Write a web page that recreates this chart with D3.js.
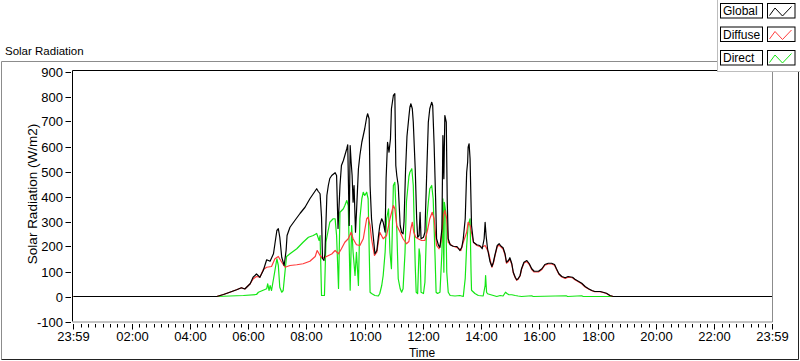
<!DOCTYPE html>
<html><head><meta charset="utf-8">
<script src="https://cdn.jsdelivr.net/npm/d3@7"></script>
<style>
body{margin:0;background:#fff;overflow:hidden}
text{font-family:"Liberation Sans",Arial,sans-serif;fill:#000}
text.nar{font-family:"Liberation Sans Narrow","Liberation Sans",Arial,sans-serif}
</style>
</head><body><svg id="c" width="800" height="361"></svg>
<script>
// ---------- data ----------
const seriesNames = ["Global", "Diffuse", "Direct"];
const seriesColors = ["#000000", "#ff3b3b", "#14e614"];
const xTickLabels = ["23:59","02:00","04:00","06:00","08:00","10:00","12:00","14:00","16:00","18:00","20:00","22:00","23:59"];
const yTickValues = [-100,0,100,200,300,400,500,600,700,800,900];

const globalTime = ["00:00","04:55","05:09","05:22","05:36","05:46","05:53","06:04","06:10","06:17","06:24","06:31","06:38","06:45","06:52","06:55","06:59","07:02","07:05","07:09","07:14","07:18","07:20","07:26","07:36","07:47","07:57","08:07","08:14","08:21","08:24","08:28","08:31","08:33","08:36","08:38","08:42","08:45","08:48","08:52","08:59","09:02","09:05","09:09","09:12","09:16","09:19","09:23","09:25","09:28","09:30","09:32","09:34","09:36","09:38","09:41","09:43","09:47","09:50","09:54","09:57","10:00","10:04","10:06","10:09","10:11","10:14","10:18","10:21","10:25","10:28","10:31","10:35","10:38","10:42","10:44","10:47","10:50","10:53","10:55","10:59","11:02","11:04","11:06","11:09","11:13","11:16","11:19","11:21","11:24","11:27","11:31","11:33","11:35","11:38","11:40","11:44","11:47","11:49","11:52","11:54","11:56","12:01","12:04","12:08","12:11","12:14","12:18","12:20","12:23","12:26","12:28","12:32","12:35","12:39","12:41","12:43","12:45","12:48","12:50","12:52","12:56","13:02","13:10","13:16","13:20","13:23","13:27","13:30","13:32","13:33","13:35","13:37","13:40","13:44","13:51","13:57","14:02","14:06","14:08","14:10","14:13","14:18","14:22","14:25","14:28","14:33","14:37","14:41","14:45","14:49","14:52","14:56","14:59","15:03","15:06","15:10","15:13","15:16","15:20","15:23","15:28","15:34","15:39","15:44","15:49","15:58","16:05","16:11","16:18","16:25","16:31","16:35","16:40","16:46","16:53","16:59","17:08","17:13","17:20","17:27","17:34","17:41","17:48","17:54","18:05","18:11","18:18","18:25","18:32","23:59"];
const globalValue = [0,0,8,17,27,35,30,51,77,90,77,104,147,141,171,211,264,271,237,157,124,184,244,277,304,333,357,391,411,431,421,411,317,152,144,170,404,444,472,484,495,484,272,444,524,544,564,591,607,284,604,537,484,377,444,257,337,511,564,617,644,671,717,731,711,444,311,231,171,184,237,284,311,297,257,471,617,577,631,751,804,811,524,484,444,284,257,251,300,500,640,720,757,771,751,697,511,311,237,244,337,231,237,257,511,697,751,777,764,604,391,231,204,197,271,644,471,724,697,377,231,207,201,200,184,197,231,311,497,537,597,611,551,284,217,207,204,191,231,297,244,191,140,120,137,164,204,211,201,195,171,137,144,155,131,97,77,67,71,84,111,137,144,131,111,101,101,111,128,133,133,128,111,91,80,75,80,77,69,61,53,40,31,24,20,20,17,13,4,0,0];

const diffuseTime = ["00:00","04:55","05:09","05:22","05:36","05:46","05:53","06:04","06:10","06:17","06:24","06:31","06:38","06:48","06:55","07:02","07:09","07:16","07:26","07:40","07:53","08:07","08:18","08:22","08:28","08:33","08:38","08:52","08:59","09:06","09:12","09:19","09:26","09:32","09:36","09:43","09:50","09:57","10:04","10:07","10:11","10:14","10:20","10:25","10:31","10:38","10:45","10:52","10:59","11:02","11:06","11:13","11:19","11:26","11:31","11:35","11:38","11:41","11:45","11:50","11:57","12:04","12:10","12:14","12:19","12:23","12:28","12:33","12:37","12:42","12:45","12:49","12:52","12:59","13:13","13:18","13:23","13:30","13:33","13:37","13:44","13:51","14:01","14:08","14:15","14:18","14:22","14:25","14:28","14:33","14:37","14:41","14:45","14:49","14:52","14:56","14:59","15:03","15:06","15:10","15:13","15:16","15:20","15:23","15:28","15:34","15:39","15:44","15:49","15:58","16:05","16:11","16:18","16:25","16:31","16:35","16:40","16:46","16:53","16:59","17:08","17:13","17:20","17:27","17:34","17:41","17:48","17:54","18:05","18:11","18:18","18:25","18:32","23:59"];
const diffuseValue = [0,0,8,17,27,35,30,51,70,80,77,108,117,120,151,160,137,117,124,127,131,141,160,184,164,152,157,170,184,171,191,217,231,257,231,207,204,231,311,317,284,231,164,177,257,231,244,311,364,351,284,257,231,211,220,271,297,257,237,231,224,224,271,311,337,311,204,191,217,324,344,311,217,204,193,184,217,257,297,284,217,204,197,204,177,150,117,133,160,200,205,198,190,167,133,140,150,128,95,75,65,69,82,108,134,140,128,108,98,98,108,125,130,130,125,108,89,78,72,77,75,67,59,51,38,30,23,19,19,16,12,4,0,0];

const directTime = ["00:00","04:55","05:50","06:17","06:21","06:38","06:40","06:43","06:45","06:48","06:55","06:59","07:02","07:05","07:09","07:12","07:16","07:19","07:26","07:40","07:53","08:04","08:14","08:21","08:26","08:28","08:31","08:37","08:40","08:48","08:55","08:59","09:02","09:06","09:09","09:16","09:19","09:23","09:26","09:28","09:30","09:33","09:36","09:40","09:43","09:47","09:50","09:54","09:57","10:00","10:04","10:07","10:11","10:14","10:21","10:28","10:31","10:35","10:38","10:42","10:45","10:49","10:52","10:55","10:59","11:02","11:06","11:09","11:13","11:16","11:19","11:23","11:26","11:31","11:33","11:37","11:40","11:44","11:46","11:49","11:52","11:54","11:56","12:01","12:04","12:08","12:11","12:14","12:18","12:21","12:25","12:27","12:30","12:35","12:39","12:41","12:43","12:44","12:47","12:49","12:52","12:56","13:06","13:16","13:23","13:27","13:30","13:33","13:37","13:39","13:40","13:47","13:54","14:04","14:08","14:09","14:11","14:13","14:18","14:25","14:32","14:39","14:45","14:50","14:53","14:57","15:03","15:10","15:16","15:23","15:44","15:47","16:55","16:58","17:27","17:30","23:59"];
const directValue = [0,0,4,8,17,31,51,24,44,24,104,151,124,37,17,24,104,160,171,191,217,237,244,252,224,244,4,4,217,297,311,311,244,32,337,351,364,384,364,200,25,284,177,84,177,44,311,391,417,404,417,391,17,12,4,2,12,44,84,177,311,351,177,111,444,457,271,71,31,17,31,177,380,480,497,511,444,124,17,12,191,164,17,12,57,311,377,431,444,391,151,17,12,17,177,391,97,377,337,97,17,4,2,4,0,72,204,284,311,97,25,12,4,2,44,84,17,11,8,4,0,4,2,17,12,7,7,4,2,0,3,0,3,0,3,0,0];

// ---------- layout ----------
const svg = d3.select("#c");
const L = 73, R = 772, T = 71.5, B = 321.5;
const parse = d3.timeParse("%H:%M");
const tStart = new Date(1900, 0, 0, 23, 59);
const tEnd = parse("23:59");
const x = d3.scaleTime().domain([tStart, tEnd]).range([L, R]);
const y = d3.scaleLinear().domain([-100, 900]).range([B, T]);

// outer panel
svg.append("rect").attr("x",0).attr("y",0).attr("width",800).attr("height",361).attr("fill","#fff");
svg.append("line").attr("x1",1.5).attr("x2",798.5).attr("y1",61.5).attr("y2",61.5).attr("stroke","#8c8c8c");
svg.append("line").attr("x1",1.5).attr("x2",1.5).attr("y1",61.5).attr("y2",359.5).attr("stroke","#8c8c8c");
svg.append("line").attr("x1",1.5).attr("x2",798.5).attr("y1",359.5).attr("y2",359.5).attr("stroke","#222");
svg.append("line").attr("x1",798.5).attr("x2",798.5).attr("y1",61.5).attr("y2",359.5).attr("stroke","#222");

svg.append("text").attr("x",5).attr("y",55).attr("font-size","11.5px").text("Solar Radiation");

// plot frame
svg.append("line").attr("x1",L-0.5).attr("x2",R+0.5).attr("y1",70.5).attr("y2",70.5).attr("stroke","#000");
svg.append("line").attr("x1",L-0.5).attr("x2",L-0.5).attr("y1",70.5).attr("y2",B).attr("stroke","#000");
svg.append("line").attr("x1",R+0.5).attr("x2",R+0.5).attr("y1",70.5).attr("y2",B+0.5).attr("stroke","#8c8c8c");
svg.append("line").attr("x1",L-0.5).attr("x2",R+0.5).attr("y1",B+0.5).attr("y2",B+0.5).attr("stroke","#8c8c8c");

// y axis ticks + labels
const yg = svg.append("g");
yTickValues.forEach(v => {
  const yy = Math.round(y(v)) + 0.5;
  yg.append("line").attr("x1",65.5).attr("x2",71).attr("y1",yy).attr("y2",yy).attr("stroke","#000");
  yg.append("text").attr("class","nar").attr("x",63).attr("y",yy).attr("dy","0.36em").attr("text-anchor","end")
    .attr("font-size","13px").text(v);
});
svg.append("text").attr("transform","translate(37,194) rotate(-90)").attr("text-anchor","middle")
  .attr("font-size","13.5px").text("Solar Radiation (W/m2)");

// x axis ticks
const xg = svg.append("g");
const minor = d3.timeMinute.every(15).range(parse("00:00"), tEnd);
minor.forEach(t => {
  const xx = Math.round(x(t)) + 0.5;
  xg.append("line").attr("x1",xx).attr("x2",xx).attr("y1",324).attr("y2",327.5).attr("stroke","#000");
});
const majorTimes = xTickLabels.map((s,i) => i === 0 ? tStart : parse(s));
majorTimes.forEach((t,i) => {
  const xx = Math.round(x(t)) + 0.5;
  xg.append("line").attr("x1",xx).attr("x2",xx).attr("y1",324).attr("y2",329.5).attr("stroke","#000");
  xg.append("text").attr("class","nar").attr("x",xx).attr("y",341).attr("text-anchor","middle").attr("font-size","13px").text(xTickLabels[i]);
});
svg.append("text").attr("x",422).attr("y",357).attr("text-anchor","middle").attr("font-size","12px").text("Time");

// data lines
svg.append("clipPath").attr("id","pc").append("rect").attr("x",L).attr("y",T-1).attr("width",R-L).attr("height",B-T+1);
const line = d3.line().x(d => x(d.t)).y(d => y(d.v));
const series = [
  {name: seriesNames[0], color: seriesColors[0], data: globalTime.map((s,i)=>({t:parse(s), v:globalValue[i]}))},
  {name: seriesNames[1], color: seriesColors[1], data: diffuseTime.map((s,i)=>({t:parse(s), v:diffuseValue[i]}))},
  {name: seriesNames[2], color: seriesColors[2], data: directTime.map((s,i)=>({t:parse(s), v:directValue[i]}))}
];
const pg = svg.append("g").attr("clip-path","url(#pc)");
[2,1,0].forEach(k => {
  pg.append("path").attr("d", line(series[k].data)).attr("fill","none")
    .attr("stroke", series[k].color).attr("stroke-width", 1.2).attr("stroke-linejoin","round");
});

// legend
const lg = svg.append("g");
lg.append("rect").attr("x",717.5).attr("y",-1).attr("width",90).attr("height",72.5).attr("fill","#fff").attr("stroke","#bdbdbd");
const rowTop = [3.5, 27, 50.5];
series.forEach((s,i) => {
  const ty = rowTop[i];
  lg.append("rect").attr("x",720.5).attr("y",ty).attr("width",42).attr("height",14.5).attr("fill","#fff").attr("stroke","#000");
  lg.append("text").attr("x",723).attr("y",ty+11.5).attr("font-size","12px").text(s.name);
  lg.append("rect").attr("x",767.5).attr("y",ty).attr("width",27.5).attr("height",14.5).attr("fill","#fff").attr("stroke","#000");
  const pts = [[769.5,ty+12],[775,ty+4.5],[782.5,ty+12.5],[791.5,ty+3]];
  lg.append("path").attr("d", d3.line()(pts)).attr("fill","none").attr("stroke", s.color).attr("stroke-width",1);
});
</script>
</body></html>
